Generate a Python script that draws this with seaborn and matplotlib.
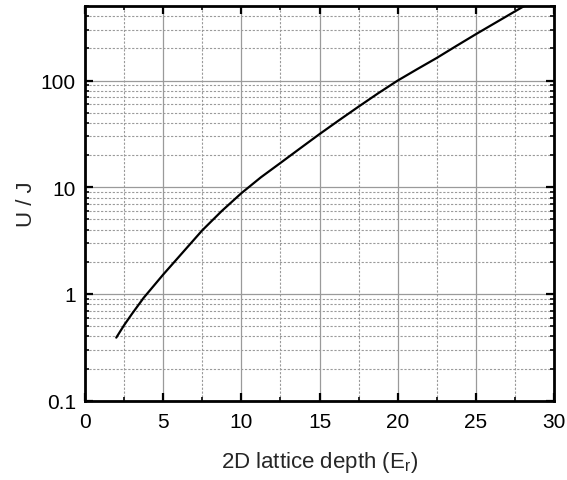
import numpy as np
import pandas as pd
import matplotlib
matplotlib.use("Agg")
import matplotlib.pyplot as plt
from matplotlib.ticker import MultipleLocator, LogLocator, FixedLocator, FixedFormatter, NullFormatter
import seaborn as sns

# Interaction-to-tunnelling ratio versus 2D lattice depth
depth = [2.0, 2.5, 3.0, 3.75, 5.0, 6.25, 7.5, 8.75, 10.0, 11.25, 12.5, 13.75,
         15.0, 16.25, 17.5, 18.75, 20.0, 21.25, 22.5, 23.75, 25.0, 26.25, 27.5, 28.25]
u_over_j = [0.39, 0.51, 0.65, 0.92, 1.52, 2.45, 3.95, 6.0, 8.8, 12.4, 16.9, 23.1,
            31.5, 42.5, 57.0, 76.0, 100.0, 128.0, 163.0, 211.0, 272.0, 348.0, 445.0, 515.0]

y_ticks = [0.1, 1, 10, 100]
y_tick_labels = ["0.1", "1", "10", "100"]
x_ticks = [0, 5, 10, 15, 20, 25, 30]

sns.set_theme(style="ticks")
plt.rcParams["font.family"] = ["Liberation Sans", "DejaVu Sans"]

df = pd.DataFrame({"depth": depth, "UJ": u_over_j})

fig = plt.figure(figsize=(5.67, 4.81), dpi=100)
ax = fig.add_axes([85 / 567, 1 - 401.7 / 481, (554 - 85) / 567, (401.7 - 7) / 481])

sns.lineplot(data=df, x="depth", y="UJ", ax=ax, color="black", linewidth=1.6, zorder=5)

ax.set_yscale("log")
ax.set_xlim(0, 30)
ax.set_ylim(0.1, 500)

ax.xaxis.set_major_locator(FixedLocator(x_ticks))
ax.xaxis.set_minor_locator(MultipleLocator(2.5))
ax.yaxis.set_major_locator(FixedLocator(y_ticks))
ax.yaxis.set_major_formatter(FixedFormatter(y_tick_labels))
ax.yaxis.set_minor_locator(LogLocator(base=10, subs=np.arange(2, 10), numticks=20))
ax.yaxis.set_minor_formatter(NullFormatter())

ax.grid(which="major", color="#9a9a9a", linestyle="-", linewidth=0.9)
ax.grid(which="minor", color="#9a9a9a", linestyle=(0, (2, 1.5)), linewidth=0.8)
ax.set_axisbelow(True)

for s in ax.spines.values():
    s.set_linewidth(2.0)
    s.set_color("black")

ax.tick_params(which="major", direction="in", length=6, width=1.6, top=True, right=True,
               labelsize=15, colors="black")
ax.tick_params(axis="x", which="major", pad=8)
ax.tick_params(axis="y", which="major", pad=6.5)
ax.tick_params(which="minor", direction="in", length=3.2, width=1.4, top=True, right=True)

ax.set_xlabel("2D lattice depth (E$_\\mathregular{r}$)", fontsize=16, labelpad=13)
ax.set_ylabel("U / J", fontsize=16, labelpad=3)

fig.savefig("out.png", dpi=100)
